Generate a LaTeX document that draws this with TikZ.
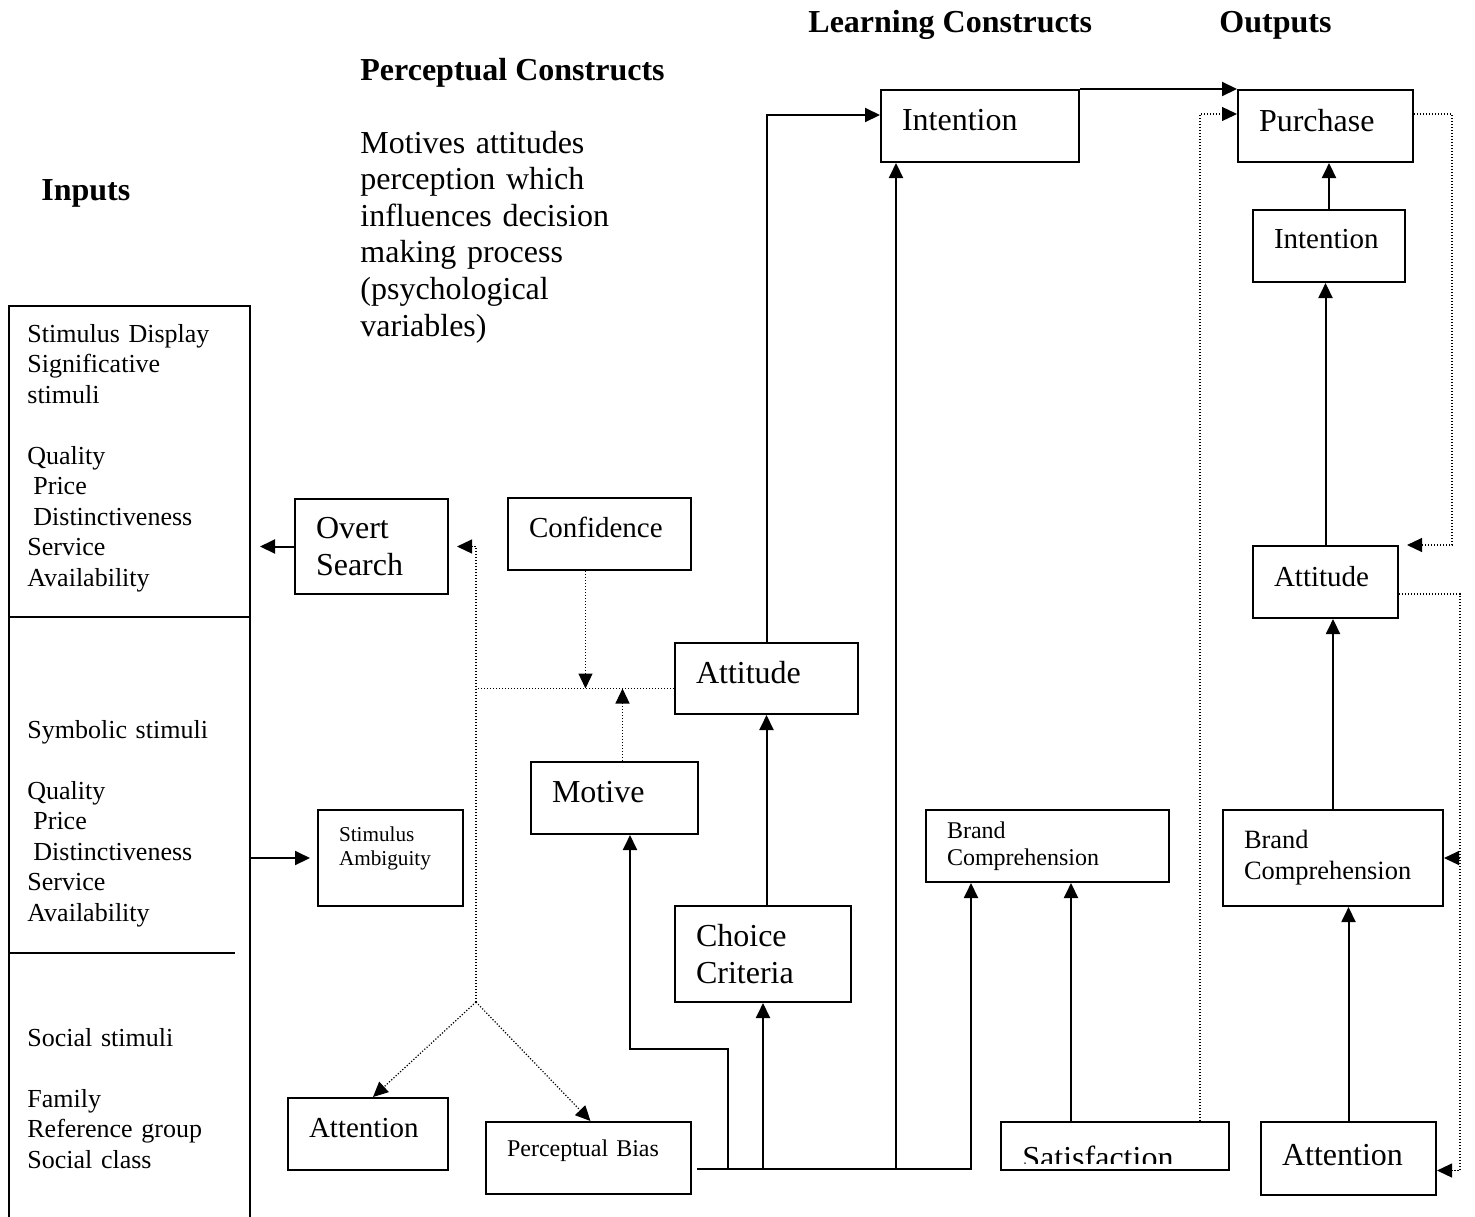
\documentclass[tikz,border=0pt]{standalone}
\usepackage{fontspec}
\setmainfont{Liberation Serif}
\usetikzlibrary{arrows.meta}

\newcommand{\fsz}[2]{\fontsize{#1}{#2}\selectfont}

\tikzset{
    blk/.style 2 args={draw, line width=1pt, anchor=north west, inner xsep=10.5pt,
        inner ysep=0pt, align=left, text width=#1, minimum height=#2},
    lift/.style={text depth=#1}, lift/.default=6pt,
    txt/.style={anchor=base west, inner sep=0pt, align=left},
    fbig/.style={font=\fsz{16}{18.4}},
    fmid/.style={font=\fsz{14.5}{17}},
    fin/.style={font=\fsz{13}{15.25}},
    fhead/.style={font=\fsz{16}{18.4}\bfseries},
    link/.style={line width=1pt, -{Triangle[length=7.5pt,width=7pt]}},
    fbline/.style={line width=0.6pt, dash pattern=on 0.6pt off 0.9pt},
    fb/.style={fbline, -{Triangle[length=7.5pt,width=7pt]}},
}

\begin{document}
\begin{tikzpicture}[x=0.5pt, y=-0.5pt]
    \useasboundingbox (0,0) rectangle (1475,1216);

    % HEADINGS
    \node[txt, fhead] (hLearn) at (808,32) {Learning Constructs};
    \node[txt, fhead] (hOut) at (1219,32) {Outputs};
    \node[txt, fhead] (hPerc) at (360,80) {Perceptual Constructs};
    \node[txt, fhead] (hIn) at (41,200) {Inputs};
    \node[txt, text width=160pt, font=\fsz{16}{18.3}] (percNote) at (360,153)
        {Motives attitudes\\perception which\\influences decision\\making process\\(psychological\\variables)};

    % INPUTS column
    \node[draw, line width=1pt, anchor=north west, inner sep=0pt,
          minimum width=120.5pt, minimum height=460pt] (inp) at (8,305) {};
    \draw[line width=1pt] (8,617) -- (249,617);
    \draw[line width=1pt] (8,953) -- (235,953);
    \node[txt, fin, text width=115pt] (inSig) at (27,342)
        {Stimulus Display\\Significative\\stimuli\\[15.25pt]Quality\\\hspace*{3pt}Price\\\hspace*{3pt}Distinctiveness\\Service\\Availability};
    \node[txt, fin, text width=115pt] (inSym) at (27,738)
        {Symbolic stimuli\\[15.25pt]Quality\\\hspace*{3pt}Price\\\hspace*{3pt}Distinctiveness\\Service\\Availability};
    \node[txt, fin, text width=115pt] (inSoc) at (27,1046)
        {Social stimuli\\[15.25pt]Family\\Reference group\\Social class};

    % PERCEPTUAL constructs
    \node[blk={55.5pt}{47.5pt}, fbig] (overt) at (294,498) {Overt\\Search};
    \node[blk={70.5pt}{36pt}, fmid, lift=7pt] (conf) at (507,497) {Confidence};
    \node[blk={62.5pt}{36pt}, fbig, lift] (motive) at (530,761) {Motive};
    \node[blk={51.5pt}{48pt}, font=\fsz{10.6}{12}] (stimamb) at (317,809) {Stimulus\\Ambiguity\\\mbox{}};
    \node[blk={59pt}{36pt}, fmid, lift] (attnL) at (287,1097) {Attention};
    \node[blk={81.5pt}{36pt}, font=\fsz{12}{14}, lift=10pt] (percb) at (485,1121) {Perceptual Bias};

    % LEARNING constructs
    \node[blk={78pt}{36pt}, fbig, lift] (intTop) at (880,89) {Intention};
    \node[blk={70.5pt}{35.5pt}, fbig, lift=6.5pt] (attM) at (674,642) {Attitude};
    \node[blk={67pt}{48pt}, fbig] (choice) at (674,905) {Choice\\Criteria};
    \node[blk={100.5pt}{36pt}, font=\fsz{12}{13.5}, text depth=16pt] (brandL) at (925,809) {Brand\\Comprehension};
    \node[blk={93pt}{24pt}] (satis) at (1000,1121) {};
    \begin{scope}
        \clip (satis.north west) rectangle ([yshift=4pt]satis.south east);
        \node[txt, fbig] (satisT) at (1022,1168) {Satisfaction};
    \end{scope}

    % OUTPUTS column
    \node[blk={66.5pt}{36pt}, fbig, lift] (purch) at (1237,89) {Purchase};
    \node[blk={55pt}{36pt}, fmid, lift=7pt] (intR) at (1252,209) {Intention};
    \node[blk={51.5pt}{36pt}, fmid, lift] (attR) at (1252,545) {Attitude};
    \node[blk={89pt}{48pt}, font=\fsz{13.2}{15.5}] (brandR) at (1222,809) {Brand\\Comprehension};
    \node[blk={66.5pt}{36.5pt}, fbig, lift=4pt] (attnR) at (1260,1121) {Attention};

    % solid links
    \coordinate (inTip) at ([xshift=4.5pt]inp.east);
    \draw[link] (overt.west) -- (overt.west -| inTip);
    \draw[link] (inp.east |- stimamb.west) -- ([xshift=-3.5pt]stimamb.west);
    \draw[link] (intTop.north east) -- (purch.north west);
    \coordinate (intIn) at ([yshift=5.5pt]intTop.west);
    \draw[link] (attM.north) |- (intIn);
    \draw[link] (attM.south |- choice.north) -- (attM.south);

    % bottom bus
    \coordinate (busL) at (697,1169);
    \coordinate (tapMot) at (728,1169);
    \coordinate (tapInt) at ([xshift=8pt]intTop.south west);
    \coordinate (tapBr) at ([xshift=23pt]brandL.south west);
    \coordinate (tapSat) at ([xshift=-22pt]satis.north);
    \draw[link] (busL) -| (tapBr);
    \draw[link] (tapMot) -- ++(0,-120) -| ([xshift=7.75pt]motive.south);
    \draw[link] (choice.south |- busL) -- (choice.south);
    \draw[link] (tapInt |- busL) -- (tapInt);
    \draw[link] (tapSat) -- (tapSat |- brandL.south);

    % right column
    \draw[link] (attnR.north) -- (attnR.north |- brandR.south);
    \draw[link] (brandR.north) -- (brandR.north |- attR.south);
    \draw[link] (attR.north) -- (attR.north |- intR.south);
    \draw[link] (intR.north) -- (intR.north |- purch.south);

    % dotted feedback, outputs
    \coordinate (purOut) at ([yshift=6pt]purch.east);
    \coordinate (purIn) at ([yshift=6pt]purch.west);
    \coordinate (attIn) at ([xshift=4pt]attR.north east);
    \draw[fb] (purOut) -- ++(38,0) |- (attIn);
    \coordinate (attOut) at ([yshift=-6pt]attR.east);
    \draw[fb] (attOut) -- ++(61,0) coordinate (fbR) |- ([yshift=-6pt]attnR.east);
    \draw[fb] (fbR |- brandR.east) -- (brandR.east);
    \draw[fb] ([xshift=-15pt]satis.north east) |- (purIn);

    % dotted feedback, perceptual side
    \coordinate (fbS) at (476,1002);
    \coordinate (fbA) at ([yshift=-5pt]attM.west);
    \draw[fbline] (fbA) -- (fbA -| fbS);
    \draw[fb] (fbS) |- ([xshift=4pt]overt.east);
    \coordinate (confOut) at ([xshift=-7pt]conf.south);
    \draw[fb] (confOut) -- (confOut |- fbA);
    \coordinate (motOut) at ([xshift=4pt]motive.north);
    \draw[fb] (motOut) -- (motOut |- fbA);
    \draw[fb] (fbS) -- ([xshift=2.5pt]attnL.north);
    \draw[fb] (fbS) -- ([xshift=1pt]percb.north);
\end{tikzpicture}
\end{document}
